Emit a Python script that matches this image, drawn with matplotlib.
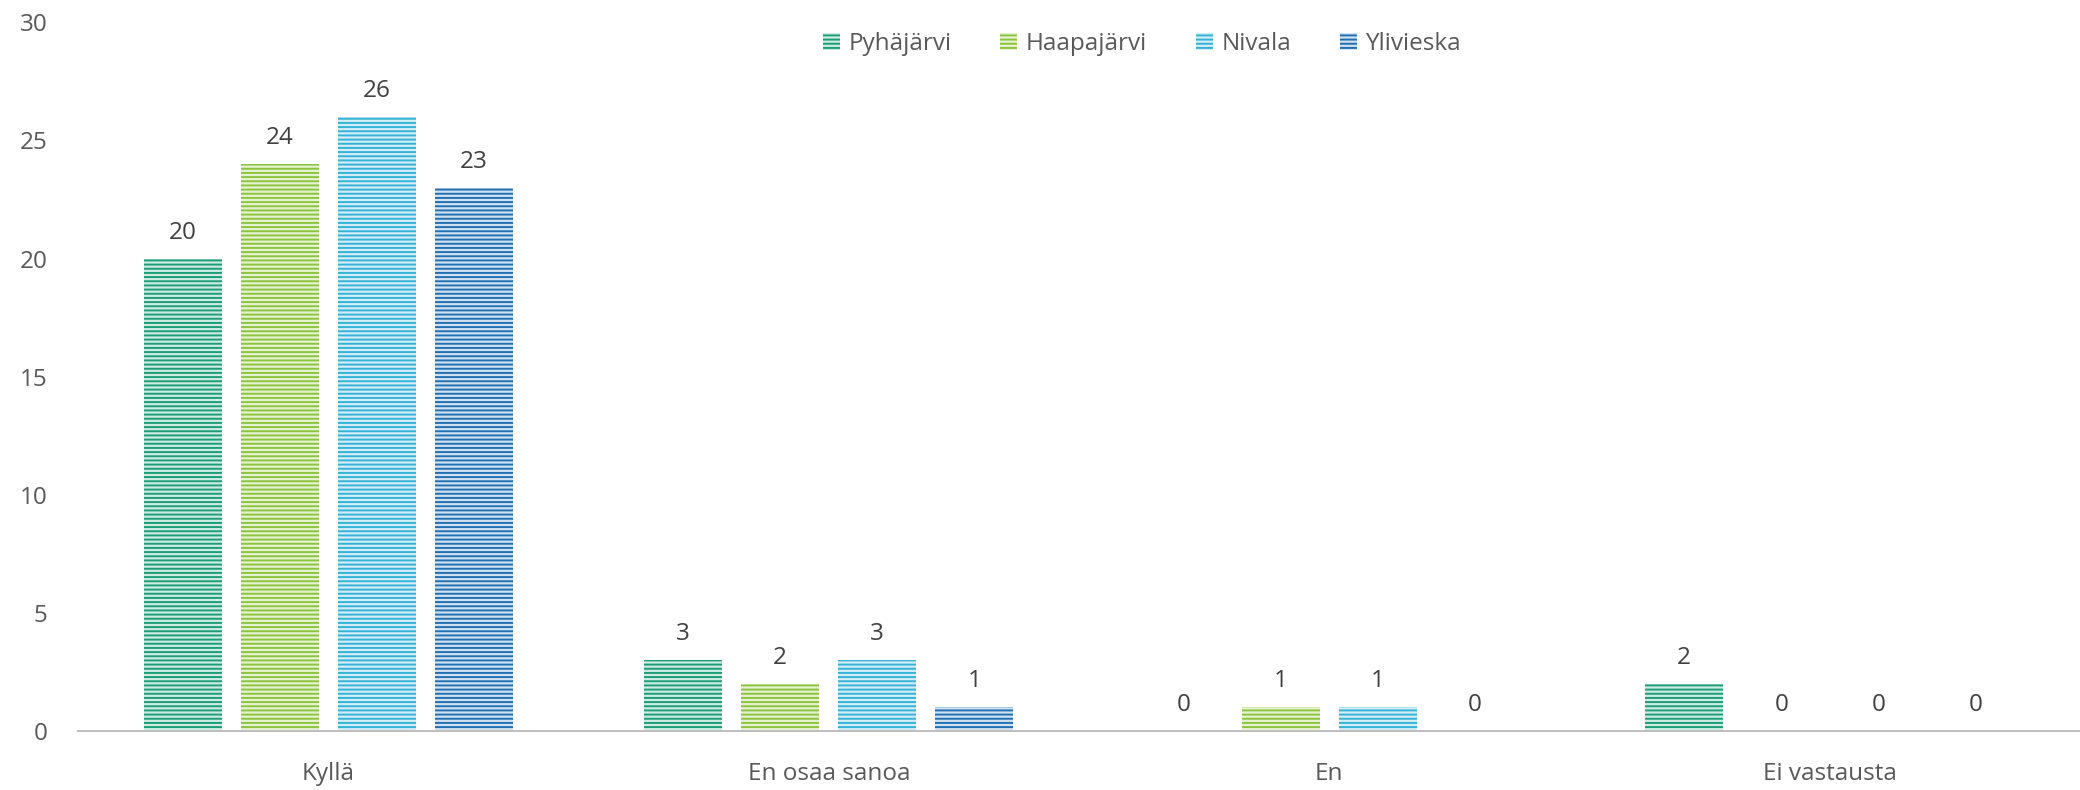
import numpy as np
import matplotlib; matplotlib.use("Agg")
import matplotlib.pyplot as plt

categories = ["Kyllä", "En osaa sanoa", "En", "Ei vastausta"]
series = ["Pyhäjärvi", "Haapajärvi", "Nivala", "Ylivieska"]
pyhajarvi = [20, 3, 0, 2]
haapajarvi = [24, 2, 1, 0]
nivala = [26, 3, 1, 0]
ylivieska = [23, 1, 0, 0]
values = [pyhajarvi, haapajarvi, nivala, ylivieska]

colors = ["#1E9C78", "#8CC43F", "#35B2D6", "#2270B2"]
faces = ["#CDEDE3", "#E6F3D2", "#D2EEF7", "#D0E2F2"]

plt.rcParams["font.family"] = ["Open Sans", "DejaVu Sans"]
plt.rcParams["hatch.linewidth"] = 1.4

fig = plt.figure(figsize=(20.8, 7.9), dpi=100)
ax = fig.add_axes([0.0375, 0.0747, 0.9625, 0.897])

x = np.arange(len(categories))
w, pitch = 0.156, 0.194
for i, (name, vals) in enumerate(zip(series, values)):
    pos = x + (i - 1.5) * pitch
    ax.bar(pos, vals, w, color=faces[i], edgecolor=colors[i], hatch="----",
           linewidth=0, label=name)
    for xp, v in zip(pos, vals):
        ax.annotate(str(v), (xp, v), xytext=(0, 10), textcoords="offset points",
                    ha="center", va="bottom", fontsize=17.5, color="#404040")

ax.set_xlim(-0.5, 3.5)
ax.set_ylim(0, 30)
ax.set_yticks(range(0, 31, 5))
ax.set_xticks(x)
ax.set_xticklabels(categories)
for s in ["top", "right", "left"]:
    ax.spines[s].set_visible(False)
ax.spines["bottom"].set_color("#BFBFBF")
ax.spines["bottom"].set_linewidth(1.5)
ax.tick_params(axis="y", length=0, pad=22, labelsize=17.5, labelcolor="#595959")
ax.tick_params(axis="x", length=0, pad=22, labelsize=17.5, labelcolor="#595959")

leg = fig.legend(loc="center", bbox_to_anchor=(0.549, 0.944), ncol=4, frameon=False,
                 fontsize=17.5, handlelength=0.7, handleheight=0.7, handletextpad=0.35,
                 columnspacing=2.0)
for t in leg.get_texts():
    t.set_color("#595959")

fig.savefig("out.png", dpi=100)
